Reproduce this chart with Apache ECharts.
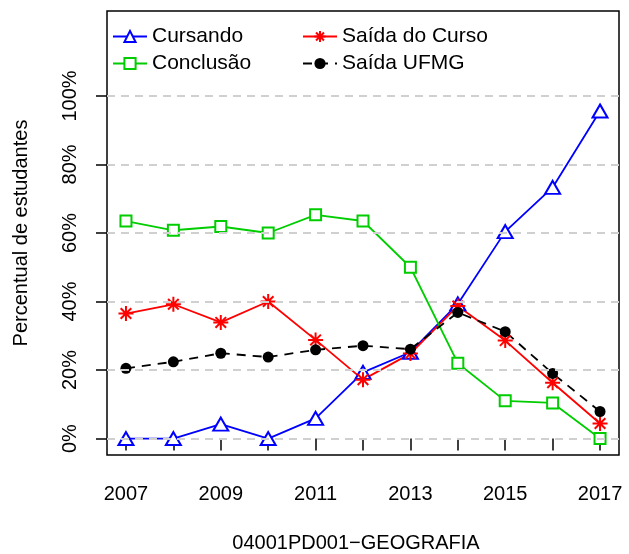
<!DOCTYPE html>
<html>
<head>
<meta charset="utf-8">
<script src="https://cdn.jsdelivr.net/npm/echarts@6/dist/echarts.min.js"></script>
<style>
  html, body { margin: 0; padding: 0; background: #fff; }
  #chart { width: 629px; height: 554px; }
</style>
</head>
<body>
<div id="chart"></div>
<script>
// Student status by entry year (percent of students)
const years = [2007, 2008, 2009, 2010, 2011, 2012, 2013, 2014, 2015, 2016, 2017];
const yearLabels = [2007, 2009, 2011, 2013, 2015, 2017];
const percentTicks = [0, 20, 40, 60, 80, 100];

const cursando   = [0, 0, 4.2, 0, 5.9, 19.3, 25.2, 39.3, 60.4, 73.3, 95.6];
const saidaCurso = [36.5, 39.2, 33.9, 40.0, 28.8, 17.2, 24.8, 38.7, 28.6, 16.3, 4.4];
const conclusao  = [63.5, 60.8, 61.9, 60.0, 65.3, 63.5, 50.0, 22.0, 11.0, 10.4, 0];
const saidaUFMG  = [20.5, 22.4, 24.9, 23.8, 25.9, 27.1, 26.1, 36.8, 31.2, 19.0, 7.9];

const courseTitle = '04001PD001\u2212GEOGRAFIA';
const yTitle = 'Percentual de estudantes';

const FONT = '"Liberation Sans", Arial, Helvetica, sans-serif';
const BLUE = '#0000FF', RED = '#FF0000', GREEN = '#00CD00', BLACK = '#000000';
const ASTERISK = 'path://M10,0L10,20M0,10L20,10M2.93,2.93L17.07,17.07M2.93,17.07L17.07,2.93';

const pairs = (vals) => years.map((y, i) => [y, vals[i]]);

const legendCommon = {
  orient: 'vertical', top: 26, padding: 0,
  itemWidth: 34, itemHeight: 14, itemGap: 6,
  textStyle: { fontSize: 21, lineHeight: 20, color: BLACK, fontFamily: FONT },
  selectedMode: false
};

const chart = echarts.init(document.getElementById('chart'), null, { renderer: 'canvas' });

chart.setOption({
  animation: false,
  backgroundColor: '#fff',
  textStyle: { fontFamily: FONT, color: BLACK },
  grid: {
    left: 107, right: 10, top: 11, bottom: 99,
    show: true, borderColor: BLACK, borderWidth: 1.5, backgroundColor: 'transparent'
  },
  legend: [
    Object.assign({ data: ['Cursando', 'Conclusão'], left: 112 }, legendCommon),
    Object.assign({ data: ['Saída do Curso', 'Saída UFMG'], left: 302 }, legendCommon)
  ],
  xAxis: {
    type: 'value', min: 2006.6, max: 2017.4,
    axisLine: { show: false },
    axisTick: { show: true, length: 12, customValues: years, lineStyle: { color: BLACK, width: 1.5 } },
    axisLabel: {
      customValues: yearLabels, margin: 29, fontSize: 20, color: BLACK, fontFamily: FONT,
      formatter: (v) => String(v)
    },
    splitLine: { show: false }
  },
  yAxis: {
    type: 'value', min: -4.8, max: 124.8,
    axisLine: { show: false },
    axisTick: { show: true, length: 11, customValues: percentTicks, lineStyle: { color: BLACK, width: 1.5 } },
    axisLabel: {
      customValues: percentTicks, rotate: 90, margin: 27, fontSize: 20, color: BLACK, fontFamily: FONT,
      formatter: (v) => v + '%'
    },
    splitLine: { show: false },
    name: yTitle, nameLocation: 'middle', nameGap: 76, nameRotate: 90,
    nameTextStyle: { fontSize: 20, color: BLACK, fontFamily: FONT }
  },
  graphic: [
    {
      type: 'text', x: 356, y: 543,
      style: {
        text: courseTitle, font: '20px ' + FONT, fill: BLACK,
        textAlign: 'center', textVerticalAlign: 'middle'
      }
    }
  ],
  series: [
    {
      name: 'grid', type: 'line', data: [], z: 1, silent: true,
      markLine: {
        silent: true, symbol: 'none', label: { show: false },
        lineStyle: { color: '#D0D0D0', type: [8, 6], width: 2 },
        data: percentTicks.map((v) => ({ yAxis: v }))
      }
    },
    {
      name: 'Cursando', type: 'line', data: pairs(cursando), z: 3,
      color: BLUE,
      symbol: 'triangle', symbolSize: [15, 13],
      itemStyle: { color: '#fff', borderColor: BLUE, borderWidth: 2 },
      lineStyle: { color: BLUE, width: 1.8 }
    },
    {
      name: 'Saída do Curso', type: 'line', data: pairs(saidaCurso), z: 3,
      color: RED,
      symbol: ASTERISK, symbolSize: 15,
      itemStyle: { color: RED, borderColor: RED, borderWidth: 2 },
      lineStyle: { color: RED, width: 1.8 }
    },
    {
      name: 'Conclusão', type: 'line', data: pairs(conclusao), z: 3,
      color: GREEN,
      symbol: 'rect', symbolSize: 11,
      itemStyle: { color: '#fff', borderColor: GREEN, borderWidth: 2 },
      lineStyle: { color: GREEN, width: 1.8 }
    },
    {
      name: 'Saída UFMG', type: 'line', data: pairs(saidaUFMG), z: 3,
      color: BLACK,
      symbol: 'circle', symbolSize: 11,
      itemStyle: { color: BLACK },
      lineStyle: { color: BLACK, width: 1.8, type: [9, 7] }
    }
  ]
});
</script>
</body>
</html>
